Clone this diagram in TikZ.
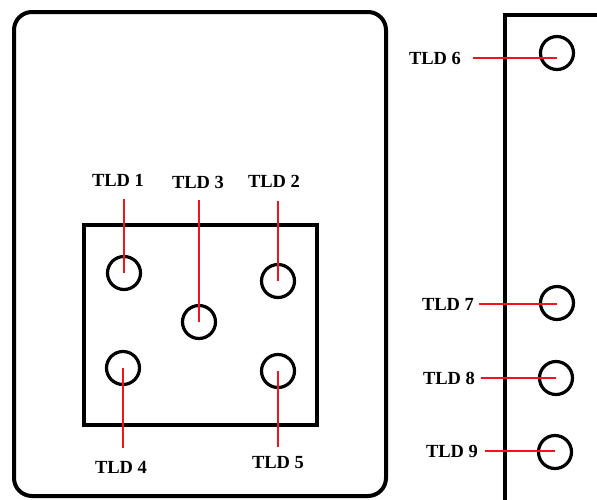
\documentclass[tikz,border=0pt]{standalone}
\usepackage{fontspec}
\setmainfont{Liberation Serif}
\definecolor{tick-red}{HTML}{F0141E}

\begin{document}
\begin{tikzpicture}[x=1pt, y=-1pt,
    holder/.style={line width=4pt},
    slot/.style={draw, circle, line width=3.2pt, minimum size=33pt, inner sep=0pt},
    lbl/.style={font=\fontsize{18.5}{18.5}\selectfont\bfseries, inner sep=0pt},
    tick/.style={draw=tick-red, line width=2pt}]
    % Layout in pixels of the 597x499 frame, y down.
    %   left holder (14,12)-(386,496), insert (84,225)-(317,425)
    %   right panel edge x=505 from y=15 down
    \useasboundingbox (0,0) rectangle (597,499);
    \draw[holder, rounded corners=18pt] (14,12) rectangle (386,496);
    \draw[line width=3.5pt] (84,225) rectangle (317,425);
    \draw[holder] (610,15) -- (505,15) -- (505,510);
    % dosimeter slots
    \node[slot] (c1) at (124,273) {};
    \node[slot] (c2) at (278,281) {};
    \node[slot] (c3) at (199,322) {};
    \node[slot] (c4) at (123,368) {};
    \node[slot] (c5) at (278,371) {};
    \node[slot] (c6) at (557,53) {};
    \node[slot] (c7) at (557,303) {};
    \node[slot] (c8) at (556,378) {};
    \node[slot] (c9) at (555,452) {};
    % labels
    \node[lbl] (l1) at (118,180) {TLD 1};
    \node[lbl] (l3) at (198,182) {TLD 3};
    \node[lbl] (l2) at (274,181) {TLD 2};
    \node[lbl] (l4) at (121,467) {TLD 4};
    \node[lbl] (l5) at (278,463) {TLD 5};
    \node[lbl] (l6) at (435,58) {TLD 6};
    \node[lbl] (l7) at (448,304) {TLD 7};
    \node[lbl] (l8) at (449,378) {TLD 8};
    \node[lbl] (l9) at (452,451) {TLD 9};
    % leader lines
    \draw[tick, shorten <=13pt] (c1.center |- l1.south) -- (c1.center);
    \draw[tick, shorten <=12pt] (c3.center |- l3.south) -- (c3.center);
    \draw[tick, shorten <=14pt] (c2.center |- l2.south) -- (c2.center);
    \draw[tick, shorten <=13pt] (c4.center |- l4.north) -- (c4.center);
    \draw[tick, shorten <=10pt] (c5.center |- l5.north) -- (c5.center);
    \draw[tick, shorten <=12pt] (l6.east) -- (l6.east -| c6.center);
    \draw[tick, shorten <=5pt] (l7.east) -- (l7.east -| c7.center);
    \draw[tick, shorten <=6pt] (l8.east) -- (l8.east -| c8.center);
    \draw[tick, shorten <=7pt] (l9.east) -- (l9.east -| c9.center);
\end{tikzpicture}
\end{document}
